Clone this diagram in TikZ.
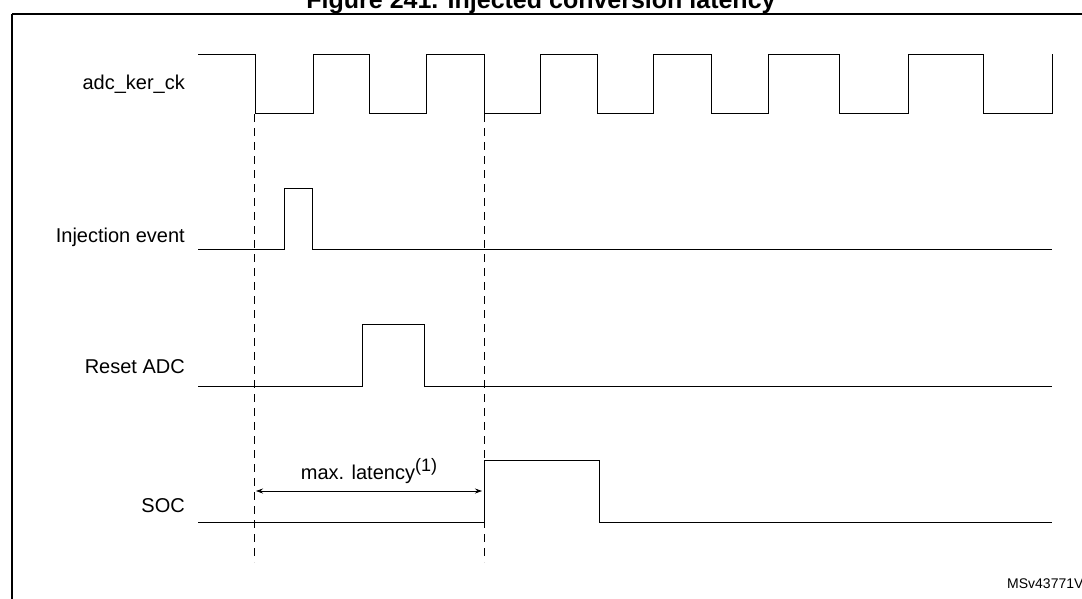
\documentclass[tikz,border=0pt]{standalone}
\usepackage{fontspec}
\setmainfont{Liberation Sans}
\usetikzlibrary{arrows.meta, positioning}

\begin{document}
\begin{tikzpicture}
[x=1pt, y=-1pt,
  label/.style={anchor=east, font=\fontsize{20}{24}\selectfont, inner sep=0pt},
  wave/.style={draw, line width=1pt},
  marker/.style={draw, line width=0.8pt, dash pattern=on 8pt off 6pt},
  >={Stealth[length=7pt, width=5pt]}]

\useasboundingbox (0,0) rectangle (1082,598);
\draw[line width=1.4pt] (12,14) -- (12,620) (12,14) -- (1100,14);
\node[font=\bfseries\fontsize{25}{28}\selectfont] (title) at (541,2) {Figure 241. Injected conversion latency};

% signal names
\node[label] (clk) at (185,84) {adc\_ker\_ck};
\node[label] (inj) at (185,237) {Injection event};
\node[label] (rst) at (185,367) {Reset ADC};
\node[label] (soc) at (185,506) {SOC};

% clock
\draw[wave] (198,54) -- (255,54) -- (255,113)
  \foreach \r/\f in {313/369, 426/484, 540/597, 653/711, 768/839, 908/983}
    { -- (\r,113) -- (\r,54) -- (\f,54) -- (\f,113) }
  -- (1052,113) -- (1052,54);

% pulses
\draw[wave] (198,249) -- (284,249) -- (284,188) -- (312,188) -- (312,249) -- (1052,249);
\draw[wave] (198,386) -- (362,386) -- (362,324) -- (424,324) -- (424,386) -- (1052,386);
\draw[wave] (198,522) -- (484,522) -- (484,460) -- (599,460) -- (599,522) -- (1052,522);

% latency markers
\coordinate (start) at (254,114);
\coordinate (stop) at (484,114);
\draw[marker] (start) -- ++(0,448);
\draw[marker] (stop) -- ++(0,448);
\draw[<->, line width=0.7pt] ([shift={(2,377)}]start) -- node[above=4pt, font=\fontsize{20}{24}\selectfont] (lat) {max. latency\raisebox{8pt}{\fontsize{18}{20}\selectfont(1)}} ([shift={(-2,377)}]stop);

\node[anchor=west, font=\fontsize{14}{16}\selectfont, inner sep=0pt] (ref) at (1007,584) {MSv43771V1};
\end{tikzpicture}
\end{document}
